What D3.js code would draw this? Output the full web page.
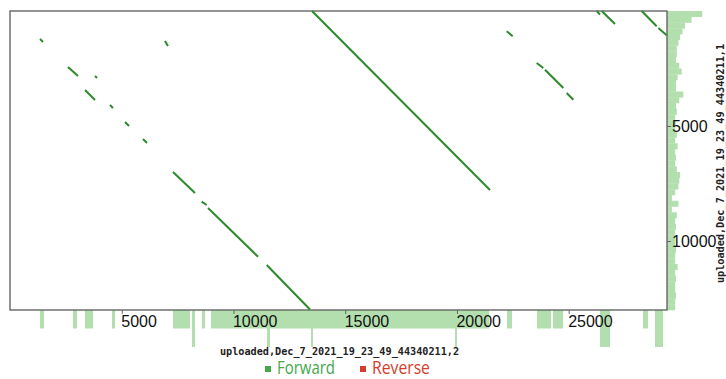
<!DOCTYPE html>
<html>
<head>
<meta charset="utf-8">
<script src="https://cdn.jsdelivr.net/npm/d3@7"></script>
<style>
  body { margin: 0; background: #fff; }
  svg { display: block; }
</style>
</head>
<body>
<svg id="chart" width="726" height="379"></svg>
<script>
// alignments: query (x) start/end, reference (y) start/end
var alnX1 = [1342, 6936, 2595, 3804, 3356, 4475, 5146, 5952, 13514, 7294, 8578, 8860, 11487, 22227, 23569, 23941, 24911, 26253, 26477, 28267, 29012];
var alnX2 = [1477, 7070, 3043, 3893, 3804, 4609, 5325, 6131, 21479, 8279, 8802, 11098, 13425, 22495, 23866, 24761, 25209, 26402, 27074, 28938, 29386];
var alnY1 = [1217, 1304, 2435, 2826, 3435, 4087, 4826, 5565, 0, 7000, 8291, 8565, 11043, 883, 2261, 2552, 3565, 0, 0, 0, 739];
var alnY2 = [1348, 1522, 2826, 2913, 3870, 4217, 5000, 5739, 7783, 7913, 8435, 10683, 12978, 1100, 2478, 3348, 3857, 161, 565, 665, 1057];

// coverage along the x sequence: start, end, depth
var covXStart = [1342, 2819, 3356, 4564, 7294, 8144, 8592, 8995, 11500, 11635, 13469, 13559, 19913, 20003, 22240, 23582, 24299, 26402, 28326, 28863];
var covXEnd   = [1521, 2998, 3714, 4699, 8055, 8279, 8726, 11500, 11635, 13469, 13559, 19913, 20003, 21435, 22464, 24209, 24746, 26849, 28550, 29221];
var covXValue = [1, 1, 1, 1, 1, 2, 1, 1, 2, 1, 2, 1, 2, 1, 1, 1, 1, 2, 1, 2];

// coverage along the y sequence, bins of 250
var covYBin = 250;
var covYValue = [4.3, 3, 2.2, 1.9, 1.6, 1.4, 1.2, 1.2, 1.1, 1.5, 1.8, 1.3, 1.1, 1.1, 2, 1.5,
  1.1, 1.2, 1, 1.1, 1, 1.2, 1, 1.3, 1, 1.1, 1, 1.2, 1.6, 1.5, 1.4, 1, 0.6, 1.4, 0.6, 1.2,
  1, 1.1, 1, 1, 1, 1.1, 1, 1, 1.3, 1, 1.1, 1, 1, 1.1, 1, 1];

var xTicks = [5000, 10000, 15000, 20000, 25000];
var yTicks = [5000, 10000];
var xTitle = "uploaded,Dec_7_2021_19_23_49_44340211,2";
var yTitle = "uploaded,Dec_7_2021_19_23_49_44340211,1";
var legendNames = ["Forward", "Reverse"];
var legendColors = ["#46a84a", "#d43c2c"];

var Plot = { left: 10, top: 11, right: 667, bottom: 310 };

var svg = d3.select("#chart");

var x = d3.scaleLinear().domain([0, 29400]).range([Plot.left, Plot.right]);
var y = d3.scaleLinear().domain([0, 13000]).range([Plot.top, Plot.bottom]);
var covBottom = d3.scaleLinear().domain([0, 2]).range([0, 37]);
var covRight = d3.scaleLinear().domain([0, 1]).range([0, 8.2]);

// coverage histograms first, so the axis text sits on top
svg.append("g")
    .attr("fill", "#b3dfae")
    .selectAll("rect")
    .data(d3.range(covXStart.length))
    .join("rect")
    .attr("x", i => x(covXStart[i]))
    .attr("width", i => x(covXEnd[i]) - x(covXStart[i]))
    .attr("y", Plot.bottom)
    .attr("height", i => covBottom(covXValue[i]));

svg.append("g")
    .attr("fill", "#b3dfae")
    .selectAll("rect")
    .data(covYValue)
    .join("rect")
    .attr("x", Plot.right)
    .attr("y", (d, i) => y(i * covYBin))
    .attr("height", y(covYBin) - y(0) + 0.3)
    .attr("width", d => covRight(d));

svg.append("rect")
    .attr("x", Plot.left)
    .attr("y", Plot.top)
    .attr("width", Plot.right - Plot.left)
    .attr("height", Plot.bottom - Plot.top)
    .attr("fill", "#fff")
    .attr("stroke", "#666")
    .attr("stroke-width", 1.4);

// alignments
svg.append("g")
    .attr("stroke", "#2b8a2b")
    .attr("stroke-width", 2)
    .attr("stroke-linecap", "butt")
    .selectAll("line")
    .data(d3.range(alnX1.length))
    .join("line")
    .attr("x1", i => x(alnX1[i]))
    .attr("x2", i => x(alnX2[i]))
    .attr("y1", i => y(alnY1[i]))
    .attr("y2", i => y(alnY2[i]));

// axes
var gx = svg.append("g")
    .attr("transform", `translate(0,${Plot.bottom})`)
    .call(d3.axisBottom(x).tickValues(xTicks).tickFormat(d3.format("d")).tickSize(4).tickPadding(2));
gx.select(".domain").remove();
gx.selectAll("text")
    .attr("text-anchor", "start")
    .attr("x", -1)
    .attr("fill", "#111")
    .style("font", "16px 'Liberation Sans', Arial, sans-serif");
gx.selectAll("line").attr("stroke", "#666");

var gy = svg.append("g")
    .attr("transform", `translate(${Plot.right},0)`)
    .call(d3.axisRight(y).tickValues(yTicks).tickFormat(d3.format("d")).tickSize(4).tickPadding(1));
gy.select(".domain").remove();
gy.selectAll("text")
    .attr("fill", "#111")
    .style("font", "16px 'Liberation Sans', Arial, sans-serif");
gy.selectAll("line").attr("stroke", "#666");

svg.append("text")
    .attr("x", (Plot.left + Plot.right) / 2 + 1)
    .attr("y", 355)
    .attr("text-anchor", "middle")
    .attr("fill", "#222")
    .style("font", "bold 10.2px 'DejaVu Sans Mono', monospace")
    .text(xTitle);

svg.append("text")
    .attr("transform", `translate(723.5,${(Plot.top + Plot.bottom) / 2 + 3}) rotate(-90)`)
    .attr("text-anchor", "middle")
    .attr("fill", "#222")
    .style("font", "bold 10.2px 'DejaVu Sans Mono', monospace")
    .text(yTitle);

// legend: text squeezed horizontally to the narrow face of the original
var legend = svg.append("g")
    .selectAll("g")
    .data(legendNames)
    .join("g")
    .attr("transform", (d, i) => `translate(${265 + i * 95},0)`);
legend.append("rect")
    .attr("x", 0)
    .attr("y", 366)
    .attr("width", 6)
    .attr("height", 6)
    .attr("fill", (d, i) => legendColors[i]);
legend.append("text")
    .attr("y", 374.5)
    .attr("fill", (d, i) => legendColors[i])
    .style("font", "18px 'Open Sans', sans-serif")
    .text(d => d)
    .attr("transform", function () {
        let k = 58 / this.getComputedTextLength();
        return `translate(12,0) scale(${k},1)`;
    });
</script>
</body>
</html>
